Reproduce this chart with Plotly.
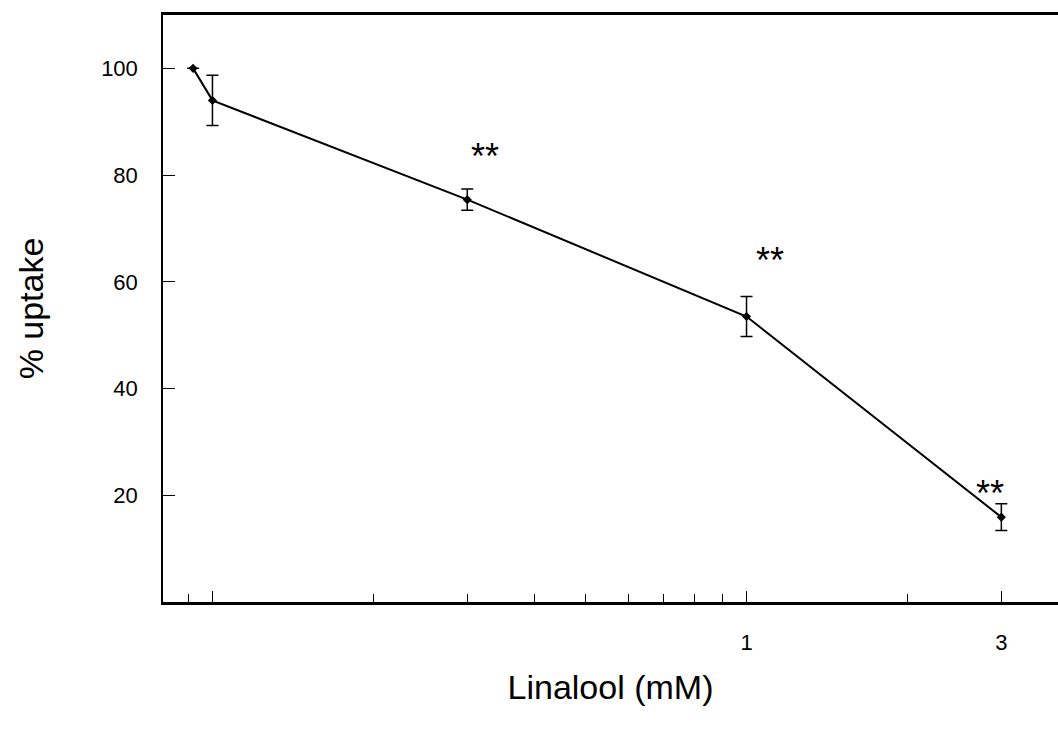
import plotly.graph_objects as go
import numpy as np

# Linalool concentration (mM); first point is the control placed left of 0.1
conc = [0.092, 0.1, 0.3, 1.0, 3.0]
uptake = [100, 94, 75.4, 53.5, 15.9]
sem = [0, 4.7, 2.0, 3.75, 2.5]

# significance markers
sig_x = [0.324, 1.106, 2.86]
sig_y = [83.5, 64.0, 20.3]
sig_text = ["**", "**", "**"]

major_ticks = [0.1, 1, 3]
major_labels = ["", "1", "3"]
minor_ticks = [0.09, 0.2, 0.3, 0.4, 0.5, 0.6, 0.7, 0.8, 0.9, 2]

y_ticks = [20, 40, 60, 80, 100]

FONT = "Liberation Sans, Arial, sans-serif"

fig = go.Figure()
fig.add_trace(go.Scatter(
    x=conc, y=uptake,
    mode="lines+markers",
    line=dict(color="black", width=2),
    marker=dict(color="black", size=7, symbol="diamond"),
    error_y=dict(type="data", array=sem, visible=True, color="black",
                 thickness=1.5, width=6),
    showlegend=False,
))

for x, y, t in zip(sig_x, sig_y, sig_text):
    fig.add_annotation(x=np.log10(x), y=y, text=t, showarrow=False,
                       font=dict(family=FONT, size=36, color="black"))

fig.update_layout(
    width=1058, height=740,
    margin=dict(l=163, r=0, t=15, b=138),
    paper_bgcolor="white", plot_bgcolor="white",
    font=dict(family=FONT, color="black"),
    xaxis=dict(
        type="log",
        range=[np.log10(0.0808), np.log10(3.83)],
        tickmode="array", tickvals=major_ticks, ticktext=major_labels,
        ticks="inside", ticklen=11, tickwidth=1.2, tickcolor="black",
        showline=True, linecolor="black", linewidth=2.5, mirror=True,
        showgrid=False, zeroline=False,
        tickfont=dict(family=FONT, size=22, color="black"),
        ticklabelstandoff=19,
        minor=dict(tickmode="array", tickvals=minor_ticks, ticks="inside",
                   ticklen=8, tickwidth=1.2, tickcolor="black", showgrid=False),
        title=dict(text="Linalool (mM)", font=dict(family=FONT, size=34, color="black"),
                   standoff=22),
    ),
    yaxis=dict(
        range=[0, 110],
        tickmode="array", tickvals=y_ticks,
        ticks="inside", ticklen=12, tickwidth=1.2, tickcolor="black",
        showline=True, linecolor="black", linewidth=1.5,
        showgrid=False, zeroline=False,
        tickfont=dict(family=FONT, size=22, color="black"),
        ticklabelstandoff=19,
        title=dict(text="% uptake", font=dict(family=FONT, size=34, color="black"),
                   standoff=47),
    ),
)

fig.write_html("out.html")
